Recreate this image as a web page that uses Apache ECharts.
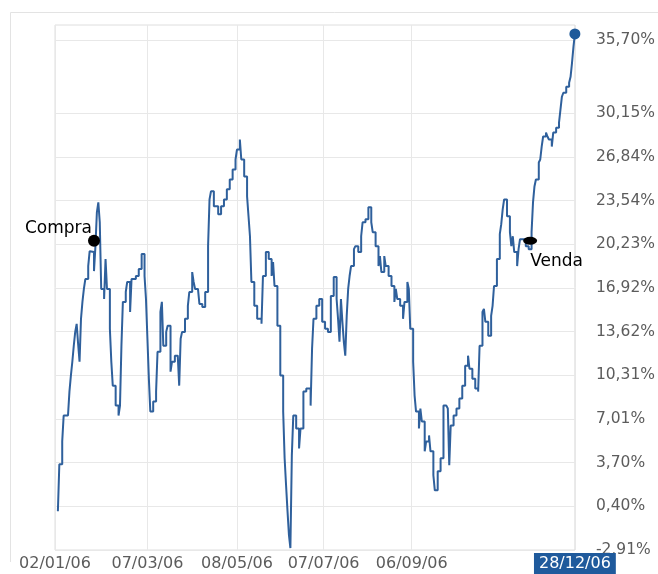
<!DOCTYPE html>
<html><head><meta charset="utf-8">
<script src="https://cdn.jsdelivr.net/npm/echarts@6/dist/echarts.min.js"></script>
<style>html,body{margin:0;padding:0;background:#fff;}#c{width:658px;height:574px;}</style>
</head><body><div id="c"></div>
<script>
const dates = [
'2006-01-04','2006-01-05','2006-01-07','2006-01-08','2006-01-11','2006-01-12','2006-01-13','2006-01-14','2006-01-15','2006-01-16',
'2006-01-17','2006-01-18','2006-01-19','2006-01-20','2006-01-21','2006-01-22','2006-01-23','2006-01-25','2006-01-26','2006-01-27',
'2006-01-29','2006-01-30','2006-01-31','2006-02-01','2006-02-02','2006-02-03','2006-02-05','2006-02-06','2006-02-07','2006-02-09',
'2006-02-10','2006-02-11','2006-02-13','2006-02-15','2006-02-16','2006-02-17','2006-02-18','2006-02-20','2006-02-21','2006-02-23',
'2006-02-24','2006-02-27','2006-03-01','2006-03-03','2006-03-05','2006-03-06','2006-03-07','2006-03-08','2006-03-09','2006-03-11',
'2006-03-13','2006-03-14','2006-03-16','2006-03-17','2006-03-18','2006-03-20','2006-03-21','2006-03-23','2006-03-24','2006-03-26',
'2006-03-28','2006-03-29','2006-03-30','2006-03-31','2006-04-02','2006-04-04','2006-04-05','2006-04-07','2006-04-08','2006-04-09',
'2006-04-11','2006-04-12','2006-04-14','2006-04-16','2006-04-18','2006-04-19','2006-04-20','2006-04-22','2006-04-25','2006-04-27',
'2006-04-29','2006-05-01','2006-05-03','2006-05-05','2006-05-07','2006-05-08','2006-05-10','2006-05-11','2006-05-13','2006-05-15',
'2006-05-16','2006-05-17','2006-05-18','2006-05-20','2006-05-22','2006-05-25','2006-05-26','2006-05-28','2006-05-30','2006-06-01',
'2006-06-02','2006-06-03','2006-06-05','2006-06-07','2006-06-09','2006-06-10','2006-06-11','2006-06-12','2006-06-13','2006-06-14',
'2006-06-15','2006-06-16','2006-06-18','2006-06-20','2006-06-21','2006-06-23','2006-06-25','2006-06-28','2006-06-29','2006-06-30',
'2006-07-02','2006-07-04','2006-07-06','2006-07-08','2006-07-10','2006-07-12','2006-07-14','2006-07-16','2006-07-17','2006-07-18',
'2006-07-19','2006-07-20','2006-07-21','2006-07-22','2006-07-23','2006-07-24','2006-07-25','2006-07-26','2006-07-28','2006-07-29',
'2006-07-31','2006-08-02','2006-08-03','2006-08-05','2006-08-07','2006-08-09','2006-08-10','2006-08-12','2006-08-14','2006-08-15',
'2006-08-16','2006-08-18','2006-08-19','2006-08-21','2006-08-23','2006-08-25','2006-08-26','2006-08-27','2006-08-29','2006-08-31',
'2006-09-01','2006-09-03','2006-09-04','2006-09-05','2006-09-07','2006-09-08','2006-09-09','2006-09-11','2006-09-12','2006-09-13',
'2006-09-15','2006-09-16','2006-09-18','2006-09-19','2006-09-21','2006-09-22','2006-09-24','2006-09-26','2006-09-28','2006-09-30',
'2006-10-01','2006-10-02','2006-10-03','2006-10-05','2006-10-07','2006-10-09','2006-10-11','2006-10-13','2006-10-15','2006-10-16',
'2006-10-18','2006-10-20','2006-10-22','2006-10-23','2006-10-25','2006-10-26','2006-10-27','2006-10-29','2006-10-31','2006-11-01',
'2006-11-02','2006-11-04','2006-11-06','2006-11-07','2006-11-08','2006-11-09','2006-11-11','2006-11-13','2006-11-14','2006-11-15',
'2006-11-16','2006-11-18','2006-11-19','2006-11-20','2006-11-22','2006-11-24','2006-11-26','2006-11-28','2006-11-29','2006-11-30',
'2006-12-01','2006-12-03','2006-12-04','2006-12-05','2006-12-06','2006-12-08','2006-12-09','2006-12-10','2006-12-12','2006-12-13',
'2006-12-15','2006-12-17','2006-12-18','2006-12-19','2006-12-20','2006-12-22','2006-12-24','2006-12-25','2006-12-26','2006-12-27',
'2006-12-28'
];
const values = [
0.03,3.58,5.31,7.27,7.27,9.08,10.29,11.34,12.55,13.60,
14.21,12.70,11.34,14.59,15.87,16.85,17.60,18.58,19.71,19.64,
18.20,20.09,22.65,23.41,21.90,16.85,16.09,19.11,16.85,13.83,
11.34,9.53,8.02,7.27,8.02,12.55,15.87,16.62,17.38,15.11,
17.60,17.83,18.36,19.49,17.83,16.09,13.08,10.06,7.57,8.33,
9.08,12.10,15.11,15.87,12.55,13.60,14.06,10.59,11.34,11.80,
11.80,9.53,13.08,13.60,14.59,15.57,16.62,18.13,17.38,16.85,
16.85,15.72,15.49,16.62,20.09,23.63,24.24,23.11,22.50,23.11,
23.63,24.39,25.14,25.90,26.65,27.40,28.16,26.65,25.37,23.86,
22.35,20.84,17.38,15.57,14.59,14.21,17.83,19.64,19.11,17.83,
18.88,17.07,14.06,10.29,7.57,4.03,1.99,0.03,-1.78,-2.76,
4.25,7.27,6.29,4.78,6.29,9.08,9.31,8.02,12.32,14.59,
15.57,16.09,14.36,13.83,13.60,16.32,17.75,16.09,14.59,12.85,
16.09,14.36,12.85,11.80,14.81,16.85,17.83,18.58,19.86,20.09,
19.64,20.84,21.90,22.13,23.03,21.90,21.15,20.09,18.58,19.34,
18.13,19.34,18.58,17.83,17.07,15.87,16.85,16.09,15.57,14.59,
15.87,17.38,16.85,13.83,11.34,8.78,7.57,6.29,7.80,6.82,
4.56,5.31,5.76,4.56,2.75,1.61,3.05,4.03,8.02,8.02,
7.80,3.50,6.52,7.27,7.80,8.55,9.53,11.04,11.80,10.81,
10.06,9.31,9.08,12.55,15.11,15.34,14.36,13.30,14.81,15.57,
17.07,19.11,21.00,21.75,22.88,23.63,22.35,21.15,20.09,20.84,
19.64,18.58,19.86,20.62,20.62,20.09,19.86,21.15,23.41,24.61,
25.14,26.42,26.65,27.63,28.39,28.69,28.39,28.16,27.63,28.69,
29.06,29.44,30.42,31.40,31.70,32.16,32.46,32.91,33.97,35.17,
36.15
];
const xTickDates = ['2006-01-02','2006-03-07','2006-05-08','2006-07-07','2006-09-06','2006-12-28'];
const yTicks = [-2.91,0.40,3.70,7.01,10.31,13.62,16.92,20.23,23.54,26.84,30.15,35.70];
const yMin = -2.91, yMax = 36.83;
const tradeDates = ['2006-01-29','2006-11-27'];
const tradeValues = [20.5, 20.5];
const tradeLabels = ['Compra','Venda'];

function ts(s){ const p = s.split('-').map(Number); return new Date(p[0], p[1]-1, p[2]).getTime(); }
function pad(n){ return (n<10?'0':'')+n; }
const xTicks = xTickDates.map(ts);
const firstTick = xTicks[0];
const lastTick = xTicks[xTicks.length-1];

const chart = echarts.init(document.getElementById('c'), null, {renderer:'canvas'});
const lineData = dates.map((d,i)=>[ts(d), values[i]]);
const option = {
  animation:false,
  backgroundColor:'#fff',
  grid:{left:55, right:78, top:25, bottom:22, show:true, borderColor:'#dedede', borderWidth:1},
  graphic:[{type:'polyline', silent:true, shape:{points:[[10.5,562],[10.5,12.5],[658,12.5]]}, style:{stroke:'#e3e3e3', lineWidth:1, fill:null}}],
  xAxis:{
    type:'value', min:firstTick, max:lastTick, scale:true,
    axisLine:{show:false}, axisTick:{show:false, customValues:xTicks},
    splitLine:{show:true, lineStyle:{color:'#e8e8e8', width:1}},
    axisLabel:{
      customValues:xTicks, margin:3, hideOverlap:false, showMinLabel:true, showMaxLabel:true,
      formatter:function(v){
        const d = new Date(v);
        const s = pad(d.getDate())+'/'+pad(d.getMonth()+1)+'/'+pad(d.getFullYear()%100);
        return Math.abs(v-lastTick) < 43200000 ? '{hl|'+s+'}' : '{n|'+s+'}';
      },
      rich:{
        n:{fontFamily:'DejaVu Sans', fontSize:16, color:'#5c5c5c', padding:[3,0,2,0]},
        hl:{fontFamily:'DejaVu Sans', fontSize:16, color:'#ffffff', backgroundColor:'#1f5a9c', padding:[3,5,2,5]}
      }
    }
  },
  yAxis:{
    type:'value', position:'right', min:yMin, max:yMax,
    axisLine:{show:false}, axisTick:{show:false, customValues:yTicks},
    splitLine:{show:true, lineStyle:{color:'#e8e8e8', width:1}},
    axisLabel:{
      customValues:yTicks, align:'left', margin:21, fontFamily:'DejaVu Sans', fontSize:15.5, color:'#5c5c5c',
      formatter:function(v){ return v.toFixed(2).replace('.', ',')+'%'; }
    }
  },
  series:[
    {type:'line', data:lineData, step:'end', showSymbol:false, lineStyle:{color:'#2f609c', width:2}, z:2},
    {type:'scatter', data:[lineData[lineData.length-1]], symbol:'circle', symbolSize:11, itemStyle:{color:'#1f5a9a', opacity:1}, z:3},
    {type:'scatter', z:4,
      data:tradeDates.map((d,i)=>({
        value:[ts(d), tradeValues[i]],
        symbolSize: i===0 ? [12,12] : [14,8],
        label:{show:true, formatter:tradeLabels[i], fontFamily:'DejaVu Sans', fontSize:17, color:'#000',
          position: i===0 ? [4,-6] : [7,25], align: i===0 ? 'right' : 'left', verticalAlign:'middle'}
      })),
      symbol:'circle', itemStyle:{color:'#000', opacity:1}
    }
  ]
};
chart.setOption(option);
</script></body></html>
